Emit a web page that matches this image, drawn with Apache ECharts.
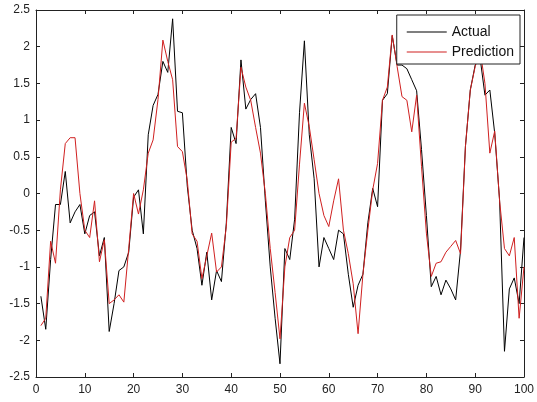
<!DOCTYPE html>
<html>
<head>
<meta charset="utf-8">
<script src="https://cdn.jsdelivr.net/npm/echarts@6/dist/echarts.min.js"></script>
<style>
  html, body { margin: 0; padding: 0; background: #fff; }
  #chart { width: 537px; height: 402px; }
</style>
</head>
<body>
<div id="chart"></div>
<script>
// sample index 1..100
const xValues = Array.from({ length: 100 }, (_, i) => i + 1);

// values
const actual = [
  -1.4, -1.85, -0.9, -0.15, -0.15, 0.3, -0.4, -0.25, -0.15, -0.55,
  -0.3, -0.25, -0.85, -0.6, -1.88, -1.5, -1.05, -1.0, -0.8, -0.05,
  0.05, -0.55, 0.8, 1.2, 1.35, 1.8, 1.65, 2.38, 1.12, 1.1,
  0.1, -0.5, -0.75, -1.25, -0.8, -1.45, -1.05, -1.2, -0.4, 0.9,
  0.68, 1.82, 1.15, 1.28, 1.36, 0.9, -0.1, -1.0, -1.7, -2.32,
  -0.75, -0.9, -0.35, 1.1, 2.08, 0.8, 0.2, -1.0, -0.6, -0.75,
  -0.9, -0.5, -0.55, -1.1, -1.55, -1.25, -1.1, -0.4, 0.07, -0.18,
  1.27, 1.36, 2.15, 1.75, 1.75, 1.7, 1.55, 1.4, 0.6, -0.3,
  -1.27, -1.13, -1.38, -1.18, -1.3, -1.45, -0.77, 0.64, 1.41, 1.75,
  1.85, 1.34, 1.41, 0.82, -0.09, -2.15, -1.3, -1.15, -1.5, -0.6
];

const prediction = [
  -1.8, -1.7, -0.65, -0.95, 0.05, 0.68, 0.76, 0.76, 0.0, -0.5,
  -0.6, -0.1, -0.93, -0.63, -1.5, -1.45, -1.38, -1.48, -0.75, 0.0,
  -0.28, 0.05, 0.55, 0.73, 1.28, 2.09, 1.8, 1.55, 0.64, 0.57,
  0.18, -0.55, -0.65, -1.16, -0.85, -0.54, -1.07, -1.0, -0.45, 0.7,
  0.75, 1.72, 1.45, 1.27, 0.9, 0.55, 0.0, -0.75, -1.35, -1.98,
  -1.0, -0.6, -0.5, 0.4, 1.23, 0.91, 0.46, 0.0, -0.3, -0.45,
  -0.1, 0.2, -0.5, -0.82, -1.23, -1.91, -1.1, -0.5, 0.05, 0.41,
  1.27, 1.45, 2.16, 1.73, 1.32, 1.27, 0.84, 1.34, 0.37, -0.54,
  -1.13, -0.95, -0.93, -0.8, -0.72, -0.64, -0.82, 0.64, 1.41, 1.73,
  1.95, 1.5, 0.55, 0.85, -0.1, -0.75, -0.85, -0.6, -1.7, -1.0
];

const axisColor = "#222";
const fontFamily = "Liberation Sans, Arial, sans-serif";
const labelFont = { color: "#222", fontSize: 12, fontFamily };

const chart = echarts.init(document.getElementById("chart"));

const pairs = ys => xValues.map((x, i) => [x, ys[i]]);

// shared pieces for the four box sides
const line = { onZero: false, lineStyle: { color: axisColor } };
const tick = { show: true, inside: true, length: 4, lineStyle: { color: axisColor } };

chart.setOption({
  backgroundColor: "#fff",
  animation: false,
  grid: { left: 36, right: 11, top: 10, bottom: 25 },
  legend: {
    orient: "vertical",
    right: 17,
    top: 15,
    backgroundColor: "#fff",
    borderColor: axisColor,
    borderWidth: 1,
    borderRadius: 0,
    padding: [10, 6, 5, 10],
    itemGap: 6,
    itemWidth: 40,
    itemHeight: 1,
    icon: "rect",
    textStyle: { color: "#111", fontSize: 14, fontFamily },
    data: ["Actual", "Prediction"]
  },
  xAxis: [
    {
      type: "value",
      min: 0,
      max: 100,
      interval: 10,
      axisLine: line,
      axisTick: tick,
      axisLabel: { ...labelFont, margin: 7 },
      splitLine: { show: false }
    },
    {
      type: "value",
      position: "top",
      min: 0,
      max: 100,
      interval: 10,
      axisLine: line,
      axisTick: tick,
      axisLabel: { show: false },
      splitLine: { show: false }
    }
  ],
  yAxis: [
    {
      type: "value",
      min: -2.5,
      max: 2.5,
      interval: 0.5,
      axisLine: { ...line, show: true },
      axisTick: tick,
      axisLabel: { ...labelFont, margin: 6 },
      splitLine: { show: false }
    },
    {
      type: "value",
      position: "right",
      min: -2.5,
      max: 2.5,
      interval: 0.5,
      axisLine: { ...line, show: true },
      axisTick: tick,
      axisLabel: { show: false },
      splitLine: { show: false }
    }
  ],
  series: [
    {
      name: "Actual",
      type: "line",
      data: pairs(actual),
      showSymbol: false,
      lineStyle: { color: "#000", width: 1 },
      itemStyle: { color: "#000" }
    },
    {
      name: "Prediction",
      type: "line",
      data: pairs(prediction),
      showSymbol: false,
      lineStyle: { color: "#d02020", width: 1 },
      itemStyle: { color: "#d02020" }
    }
  ]
});
</script>
</body>
</html>
